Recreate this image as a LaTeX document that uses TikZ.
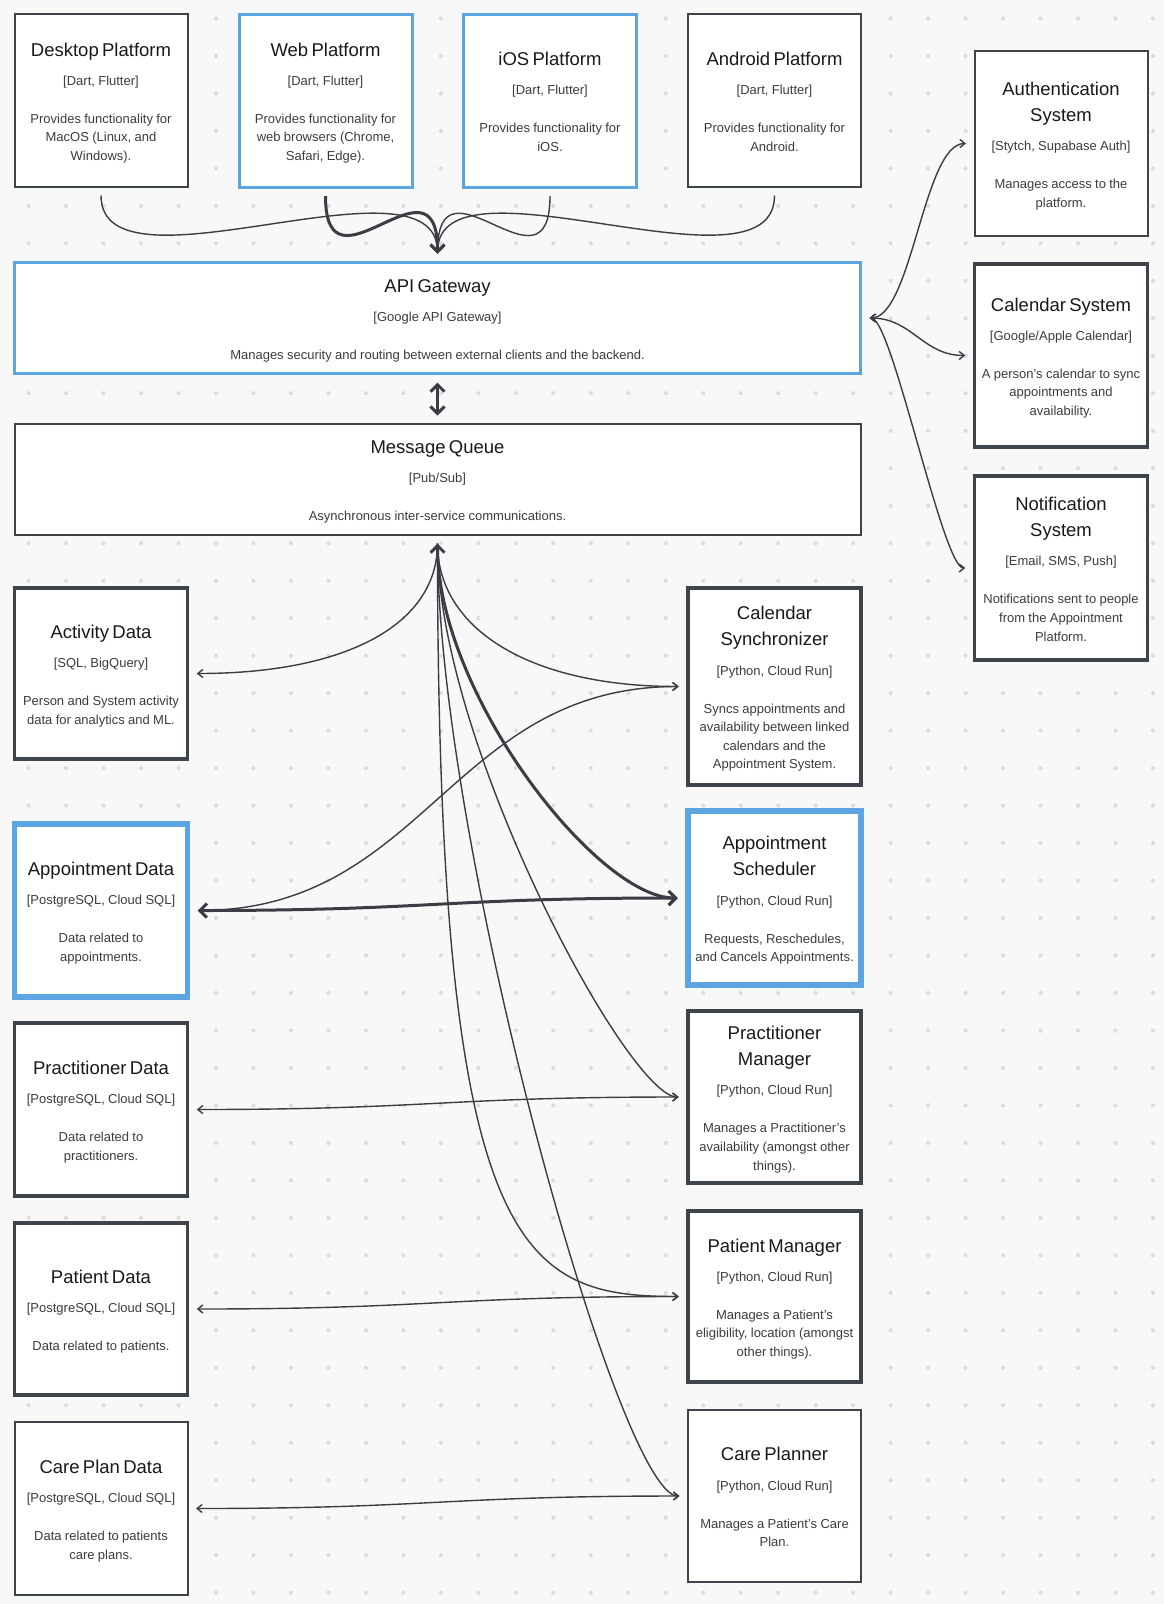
\documentclass[tikz,border=0pt]{standalone}
\usepackage{fontspec}
\setmainfont{Liberation Sans}
\usetikzlibrary{arrows.meta}

\definecolor{bgcol}{HTML}{F8F8F8}
\definecolor{dotcol}{HTML}{DDDDDE}
\definecolor{edgecol}{HTML}{3F434A}
\definecolor{bluecol}{HTML}{5DA5E0}
\definecolor{linecol}{HTML}{3A3D44}
\definecolor{titlecol}{HTML}{17191C}
\definecolor{desccol}{HTML}{3C3C3C}

% title, technology, description of a component
\newcommand{\comptext}[3]{%
  \parindent=0pt
  {\leavevmode\fontsize{18.5}{26}\selectfont\color{titlecol}\rule{0pt}{18.7pt}#1\par}%
  \vspace{10.6pt}%
  {\leavevmode\fontsize{13}{18.6}\selectfont\color{desccol}#2\par}%
  \vspace{19.4pt}%
  {\leavevmode\fontsize{13}{18.6}\selectfont\color{desccol}#3\rule[-3pt]{0pt}{3pt}\par}}

\tikzset{
  tipthin/.tip={Straight Barb[length=5pt,width=8pt]},
  tipbold/.tip={Straight Barb[length=7pt,width=14pt]},
}

\begin{document}
\begin{tikzpicture}[x=1pt,y=-1pt,
  comp/.style={draw=edgecol,fill=white,line width=2pt,minimum width=173pt,
    text width=168pt,align=center,inner sep=0pt},
  compbold/.style={comp,line width=3.5pt},
  compblue/.style={comp,draw=bluecol,line width=3pt},
  compfocus/.style={comp,draw=bluecol,line width=5.5pt},
  wide/.style={minimum width=846pt,text width=840pt},
  wire/.style={draw=linecol,line width=1.4pt,shorten <=7.5pt,shorten >=7.5pt},
  wirebold/.style={wire,line width=3pt}]

\useasboundingbox (0,0) rectangle (1164,1604);
\fill[bgcol] (0,0) rectangle (1164,1604);
\foreach \i in {0,...,30}
  \foreach \j in {0,...,42}
    \fill[dotcol] (28.6+37.48*\i,18.5+37.48*\j) circle (2.1);

% clients
\node[comp,minimum height=173pt] (desktop) at (101,100.5)
  {\comptext{Desktop Platform}{[Dart, Flutter]}{Provides functionality for\\MacOS (Linux, and\\Windows).}};
\node[compblue,minimum height=173pt] (web) at (325.5,100.5)
  {\comptext{Web Platform}{[Dart, Flutter]}{Provides functionality for\\web browsers (Chrome,\\Safari, Edge).}};
\node[compblue,minimum height=173pt] (ios) at (550,100.5)
  {\comptext{iOS Platform}{[Dart, Flutter]}{Provides functionality for\\iOS.}};
\node[comp,minimum height=173pt] (android) at (774.5,100.5)
  {\comptext{Android Platform}{[Dart, Flutter]}{Provides functionality for\\Android.}};

% external systems
\node[comp,minimum height=185pt] (auth) at (1061,143.5)
  {\comptext{Authentication\\System}{[Stytch, Supabase Auth]}{Manages access to the\\platform.}};
\node[compbold,minimum height=183pt] (calsys) at (1061,355.5)
  {\comptext{Calendar System}{[Google/Apple Calendar]}{A person's calendar to sync\\appointments and\\availability.}};
\node[compbold,minimum height=184pt] (notif) at (1061,568)
  {\comptext{Notification\\System}{[Email, SMS, Push]}{Notifications sent to people\\from the Appointment\\Platform.}};

% gateway and queue
\node[compblue,wide,minimum height=111pt] (api) at (437.5,318)
  {\comptext{API Gateway}{[Google API Gateway]}{Manages security and routing between external clients and the backend.}};
\node[comp,wide,minimum height=111pt] (mq) at (437.5,479.5)
  {\comptext{Message Queue}{[Pub/Sub]}{Asynchronous inter-service communications.}};

% data stores
\node[compbold,minimum height=171pt] (activity) at (101,673.5)
  {\comptext{Activity Data}{[SQL, BigQuery]}{Person and System activity\\data for analytics and ML.}};
\node[compfocus,minimum height=173pt] (apptdata) at (101,910.5)
  {\comptext{Appointment Data}{[PostgreSQL, Cloud SQL]}{Data related to\\appointments.}};
\node[compbold,minimum height=173pt] (practdata) at (101,1109.5)
  {\comptext{Practitioner Data}{[PostgreSQL, Cloud SQL]}{Data related to\\practitioners.}};
\node[compbold,minimum height=172pt] (patientdata) at (101,1309)
  {\comptext{Patient Data}{[PostgreSQL, Cloud SQL]}{Data related to patients.}};
\node[comp,minimum height=173pt] (careplandata) at (101,1508.5)
  {\comptext{Care Plan Data}{[PostgreSQL, Cloud SQL]}{Data related to patients\\care plans.}};

% services
\node[compbold,minimum height=197pt] (calsync) at (774.5,686.5)
  {\comptext{Calendar\\Synchronizer}{[Python, Cloud Run]}{Syncs appointments and\\availability between linked\\calendars and the\\Appointment System.}};
\node[compfocus,minimum height=174pt] (apptsched) at (774.5,898)
  {\comptext{Appointment\\Scheduler}{[Python, Cloud Run]}{Requests, Reschedules,\\and Cancels Appointments.}};
\node[compbold,minimum height=172pt] (practmgr) at (774.5,1097)
  {\comptext{Practitioner\\Manager}{[Python, Cloud Run]}{Manages a Practitioner's\\availability (amongst other\\things).}};
\node[compbold,minimum height=171pt] (patientmgr) at (774.5,1296.5)
  {\comptext{Patient Manager}{[Python, Cloud Run]}{Manages a Patient's\\eligibility, location (amongst\\other things).}};
\node[comp,minimum height=172pt] (careplanner) at (774.5,1496)
  {\comptext{Care Planner}{[Python, Cloud Run]}{Manages a Patient's Care\\Plan.}};

% clients into the gateway
\foreach \p in {desktop,ios,android}
  \draw[wire,-tipbold] (\p.south) .. controls +(0,115) and +(0,-115) .. (api.north);
\draw[wirebold,-tipbold] (web.south) .. controls +(0,115) and +(0,-115) .. (api.north);

% gateway to external systems
\draw[wire,tipthin-tipthin] (api.east) .. controls +(50,0) and +(-50,0) .. (auth.west);
\draw[wire,tipthin-tipthin] (api.east) .. controls +(50,0) and +(-50,0) .. (calsys.west);
\draw[wire,tipthin-tipthin] (api.east) .. controls +(30,0) and +(-30,0) .. (notif.west);
\draw[wirebold,tipbold-tipbold] (api.south) -- (mq.north);

% queue to stores and services
\draw[wire,-tipthin] (mq.south) .. controls +(0,88) and +(158,0) .. (activity.east);
\draw[wire,-tipthin] (mq.south) .. controls +(0,92) and +(-158,0) .. (calsync.west);
\draw[wire,-tipthin] (mq.south) .. controls +(0,208) and +(-58,0) .. (practmgr.west);
\draw[wire,-tipthin] (mq.south) .. controls +(0,720) and +(-165,0) .. (patientmgr.west);
\draw[wire,-tipthin] (mq.south) .. controls +(0,308) and +(-68,0) .. (careplanner.west);
\draw[wirebold,tipbold-tipbold] (mq.south) .. controls +(0,158) and +(-88,0) .. (apptsched.west);

% services to their data
\draw[wire,tipthin-tipthin] (calsync.west) .. controls +(-235,0) and +(235,0) .. (apptdata.east);
\draw[wirebold,tipbold-tipbold] (apptsched.west) .. controls +(-240,0) and +(240,0) .. (apptdata.east);
\draw[wire,tipthin-tipthin] (practmgr.west) .. controls +(-240,0) and +(240,0) .. (practdata.east);
\draw[wire,tipthin-tipthin] (patientmgr.west) .. controls +(-240,0) and +(240,0) .. (patientdata.east);
\draw[wire,tipthin-tipthin] (careplanner.west) .. controls +(-240,0) and +(240,0) .. (careplandata.east);
\end{tikzpicture}
\end{document}
